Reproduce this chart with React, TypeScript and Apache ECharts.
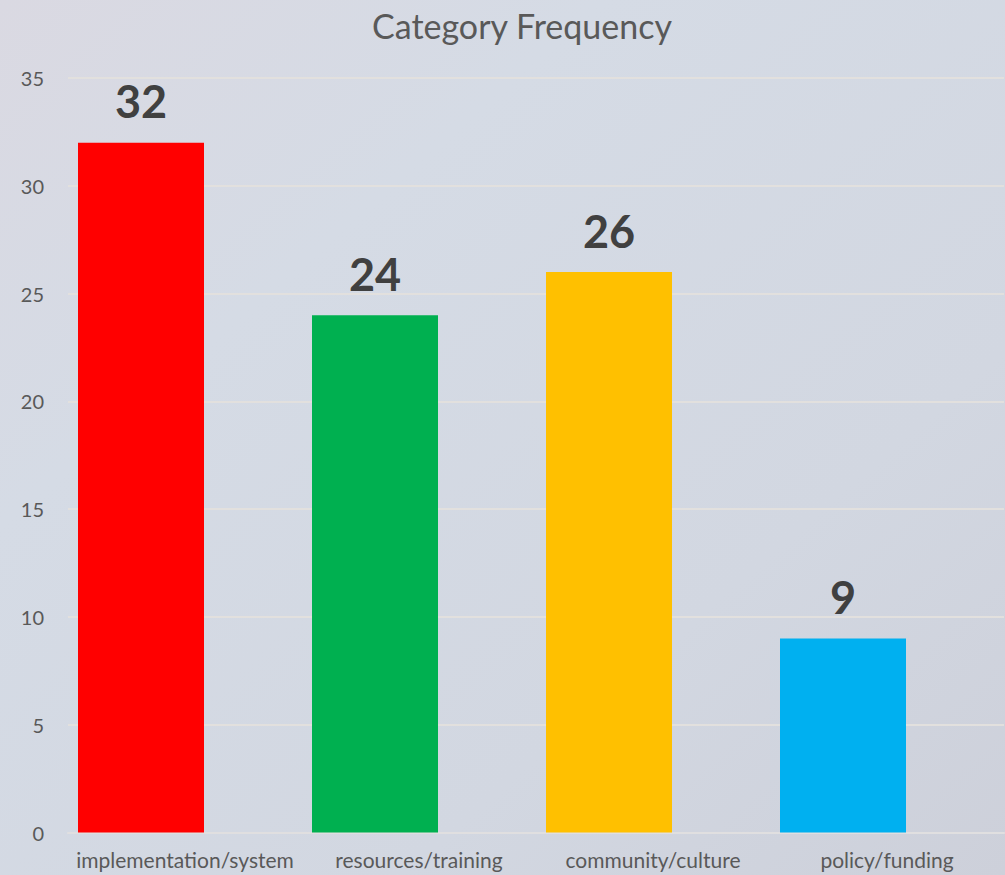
import React, { useEffect, useRef } from "react";
import * as echarts from "echarts";

const categories = ["implementation/system", "resources/training", "community/culture", "policy/funding"];
const values = [32, 24, 26, 9];
const barColors = ["#FF0000", "#00B050", "#FFC000", "#00B0F0"];
const yTicks = [0, 5, 10, 15, 20, 25, 30, 35];

const FONT = "Lato";

export default function App() {
  const ref = useRef<HTMLDivElement>(null);
  useEffect(() => {
    if (!ref.current) return;
    const chart = echarts.init(ref.current, undefined, { renderer: "svg" });
    const yMax = yTicks[yTicks.length - 1];
    chart.setOption({
      animation: false,
      backgroundColor: {
        type: "linear",
        x: 0, y: 0, x2: 1, y2: 1,
        colorStops: [
          { offset: 0, color: "#dad9e2" },
          { offset: 0.3, color: "#d5dbe5" },
          { offset: 0.7, color: "#d2d7e1" },
          { offset: 1, color: "#cdd0da" },
        ],
      },
      title: {
        text: "Category Frequency",
        left: 367,
        top: 3,
        textStyle: { fontFamily: FONT, fontSize: 34, fontWeight: "normal", color: "#595959" },
      },
      grid: [
        { left: 68, right: 1, top: 78, bottom: 42.5 },
        { left: 24, width: 936, top: 78, bottom: 42.5 },
      ],
      xAxis: [
        {
          type: "category",
          gridIndex: 0,
          data: categories,
          axisLine: { show: true, lineStyle: { color: "#e0dfe0", width: 2 } },
          axisTick: { show: false },
          axisLabel: { interval: 0, fontFamily: FONT, fontSize: 21, color: "#595959", margin: 16 },
        },
        {
          type: "category",
          gridIndex: 1,
          data: categories,
          show: false,
        },
      ],
      yAxis: [
        {
          type: "value",
          gridIndex: 0,
          min: 0,
          max: yMax,
          interval: 5,
          axisLine: { show: false },
          axisTick: { show: false },
          axisLabel: { fontFamily: FONT, fontSize: 20, color: "#595959", margin: 24 },
          splitLine: { lineStyle: { color: "#e2e0de", width: 2 } },
        },
        {
          type: "value",
          gridIndex: 1,
          min: 0,
          max: yMax,
          interval: 5,
          show: false,
          splitLine: { show: false },
        },
      ],
      series: [
        {
          type: "bar",
          xAxisIndex: 1,
          yAxisIndex: 1,
          barWidth: 126,
          data: values.map((v, i) => ({ value: v, itemStyle: { color: barColors[i] } })),
          label: {
            show: true,
            position: "top",
            distance: 19,
            fontFamily: FONT,
            fontSize: 45,
            fontWeight: "bold",
            color: "#404040",
          },
        },
      ],
    });
    return () => chart.dispose();
  }, []);
  return (
    <div
      ref={ref}
      style={{ position: "fixed", left: 0, top: 0, width: 1005, height: 875 }}
    />
  );
}
